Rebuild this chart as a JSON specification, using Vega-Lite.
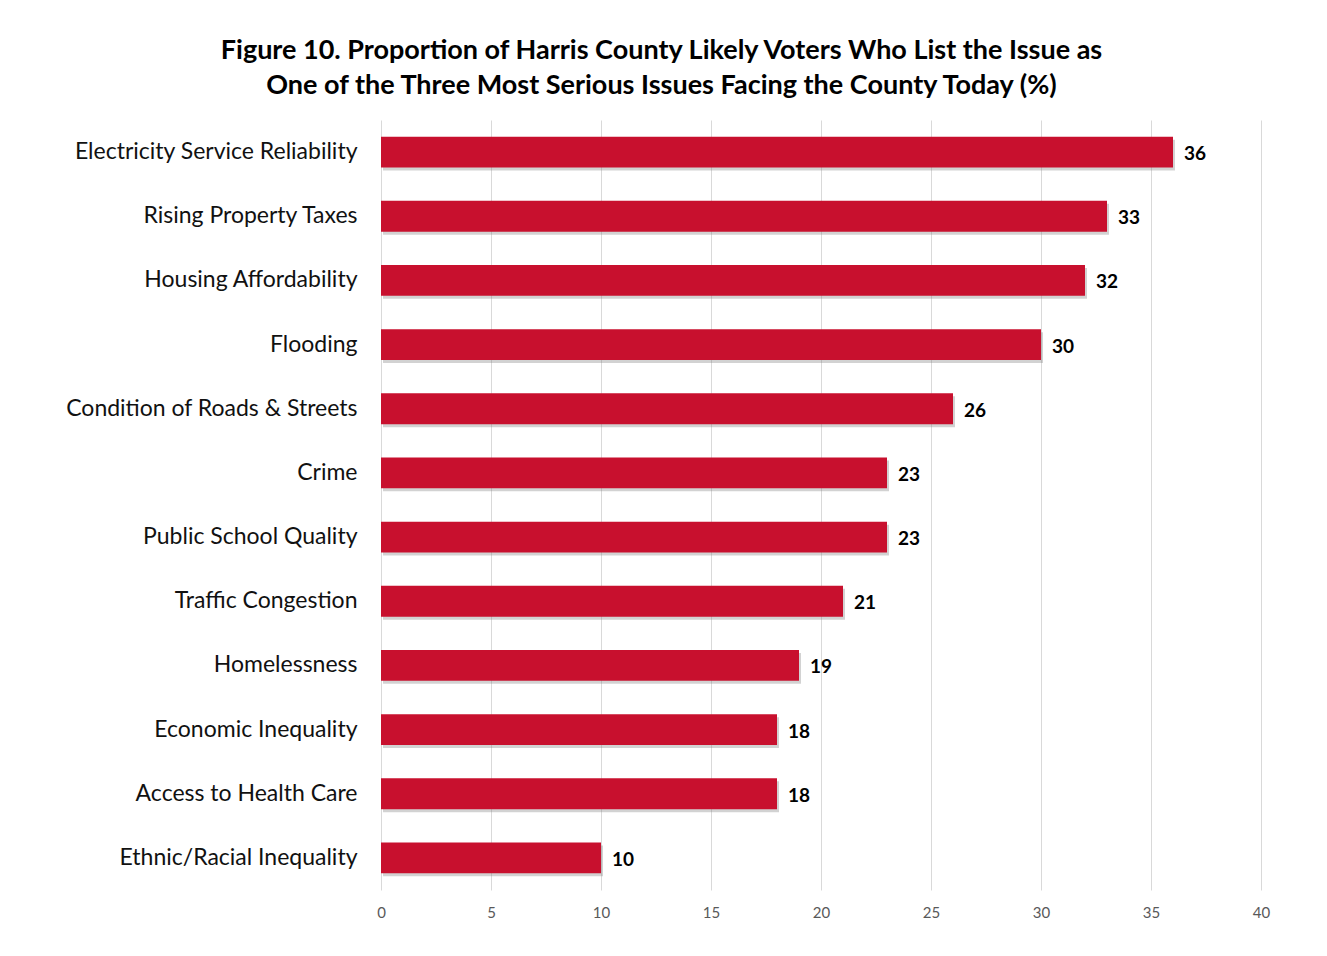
{
  "$schema": "https://vega.github.io/schema/vega-lite/v6.json",
  "width": 880,
  "height": 770,
  "autosize": {"type": "none"},
  "padding": {"left": 381, "top": 120, "right": 66, "bottom": 66},
  "background": "white",
  "title": {
    "text": ["Figure 10. Proportion of Harris County Likely Voters Who List the Issue as", "One of the Three Most Serious Issues Facing the County Today (%)"],
    "font": "Lato",
    "fontSize": 27,
    "fontWeight": "bold",
    "color": "#000000",
    "lineHeight": 35,
    "anchor": "middle",
    "frame": "bounds",
    "offset": 20,
    "dx": -6
  },
  "config": {
    "view": {"stroke": null},
    "font": "Lato"
  },
  "data": {
    "values": [
      {"issue": "Electricity Service Reliability", "pct": 36},
      {"issue": "Rising Property Taxes", "pct": 33},
      {"issue": "Housing Affordability", "pct": 32},
      {"issue": "Flooding", "pct": 30},
      {"issue": "Condition of Roads & Streets", "pct": 26},
      {"issue": "Crime", "pct": 23},
      {"issue": "Public School Quality", "pct": 23},
      {"issue": "Traffic Congestion", "pct": 21},
      {"issue": "Homelessness", "pct": 19},
      {"issue": "Economic Inequality", "pct": 18},
      {"issue": "Access to Health Care", "pct": 18},
      {"issue": "Ethnic/Racial Inequality", "pct": 10}
    ]
  },
  "encoding": {
    "y": {
      "field": "issue",
      "type": "nominal",
      "sort": null,
      "scale": {"paddingInner": 0.52, "paddingOuter": 0.26},
      "axis": {
        "title": null,
        "domain": false,
        "ticks": false,
        "labelFont": "Lato",
        "labelFontSize": 23,
        "labelColor": "#111111",
        "labelPadding": 24,
        "labelLimit": 400
      }
    },
    "x": {
      "field": "pct",
      "type": "quantitative",
      "scale": {"domain": [0, 40], "nice": false},
      "axis": {
        "title": null,
        "values": [0, 5, 10, 15, 20, 25, 30, 35, 40],
        "domain": false,
        "ticks": false,
        "grid": true,
        "gridColor": "#d9d9d9",
        "gridWidth": 1,
        "labelFlush": false,
        "labelFont": "Lato",
        "labelFontSize": 15,
        "labelColor": "#595959",
        "labelPadding": 15
      }
    }
  },
  "layer": [
    {
      "mark": {"type": "bar", "color": "#7f7f7f", "opacity": 0.35, "xOffset": 2, "yOffset": 3}
    },
    {
      "mark": {"type": "bar", "color": "#C8102E"}
    },
    {
      "mark": {"type": "text", "align": "left", "baseline": "middle", "dx": 11, "dy": 2, "font": "Lato", "fontSize": 19, "fontWeight": "bold", "color": "#000000"},
      "encoding": {"text": {"field": "pct", "type": "quantitative"}}
    }
  ]
}
